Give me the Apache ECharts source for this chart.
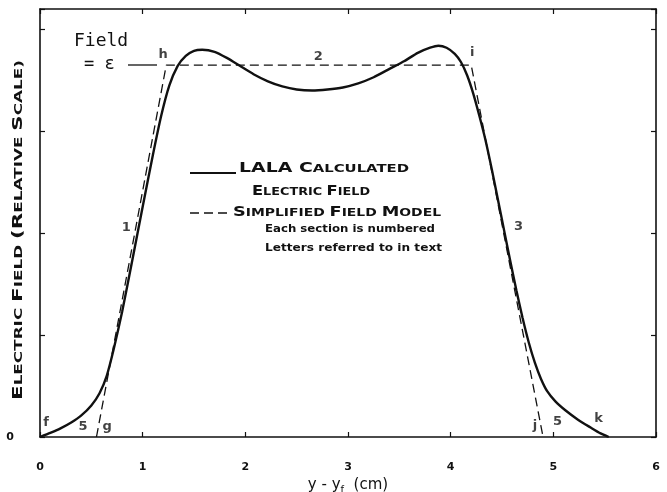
<!DOCTYPE html>
<html>
<head>
<meta charset="utf-8">
<script src="https://cdn.jsdelivr.net/npm/echarts@6/dist/echarts.min.js"></script>
<style>
  html, body { margin: 0; padding: 0; background: #fff; }
  #main { width: 667px; height: 492px; }
</style>
</head>
<body>
<div id="main"></div>
<script>
// LALA calculated electric field (solid curve), x in cm, y relative
const calcX = [0, 0.10, 0.20, 0.30, 0.40, 0.50, 0.58, 0.65, 0.72, 0.80, 0.90, 1.00, 1.10, 1.18, 1.26, 1.34, 1.42, 1.50, 1.58, 1.70, 1.82, 1.95, 2.08, 2.22, 2.36, 2.50, 2.65, 2.80, 2.95, 3.10, 3.25, 3.40, 3.55, 3.68, 3.80, 3.88, 3.96, 4.04, 4.10, 4.16, 4.22, 4.28, 4.34, 4.40, 4.46, 4.52, 4.58, 4.64, 4.70, 4.76, 4.82, 4.88, 4.94, 5.02, 5.12, 5.24, 5.36, 5.46, 5.54];
const calcY = [0, 0.04, 0.085, 0.14, 0.21, 0.31, 0.43, 0.60, 0.87, 1.23, 1.74, 2.26, 2.77, 3.15, 3.45, 3.64, 3.74, 3.79, 3.80, 3.78, 3.72, 3.64, 3.56, 3.49, 3.44, 3.41, 3.40, 3.41, 3.43, 3.47, 3.53, 3.61, 3.69, 3.77, 3.82, 3.84, 3.82, 3.76, 3.68, 3.55, 3.37, 3.15, 2.91, 2.63, 2.33, 2.03, 1.73, 1.44, 1.17, 0.93, 0.73, 0.57, 0.45, 0.35, 0.26, 0.17, 0.095, 0.035, 0];

// simplified field model (dashed): g, h, i, j
const modelX = [0.55, 1.23, 4.20, 4.90];
const modelY = [0, 3.65, 3.65, 0];

// section numbers and letters referred to in text
const noteText = ['f', '5', 'g', 'h', '2', 'i', '1', '3', 'j', '5', 'k'];
const noteX = [0.06, 0.42, 0.655, 1.20, 2.71, 4.21, 0.84, 4.66, 4.82, 5.04, 5.44];
const noteY = [0.14, 0.10, 0.10, 3.75, 3.73, 3.77, 2.05, 2.06, 0.11, 0.15, 0.18];

const xTicks = ['0', '1', '2', '3', '4', '5', '6'];

const ink = '#111';
const font = 'DejaVu Sans';

function zip(xs, ys) {
  return xs.map((x, i) => [x, ys[i]]);
}

// stretch text horizontally so it fills the given width (lettering is wide-spaced)
const ctx = document.createElement('canvas').getContext('2d');
function widthOf(parts) {
  let w = 0;
  parts.forEach(p => {
    ctx.font = 'bold ' + p[1] + 'px "' + font + '"';
    w += ctx.measureText(p[0]).width;
  });
  return w;
}
function capsText(parts, x, y, target, rotation) {
  let rich = parts.map(p => '{' + (p[1] > 12.5 ? 'b' : 's') + '|' + p[0] + '}').join('');
  return {
    type: 'text',
    x: x, y: y,
    rotation: rotation || 0,
    scaleX: target / widthOf(parts),
    style: {
      text: rich,
      x: 0, y: 0,
      align: rotation ? 'center' : 'left',
      verticalAlign: 'middle',
      fill: ink,
      rich: {
        b: { fontFamily: font, fontWeight: 'bold', fontSize: 14, fill: ink, verticalAlign: 'bottom' },
        s: { fontFamily: font, fontWeight: 'bold', fontSize: 11, fill: ink, verticalAlign: 'bottom' }
      }
    }
  };
}
function plainText(str, x, y, target) {
  return {
    type: 'text',
    x: x, y: y,
    scaleX: target / widthOf([[str, 10]]),
    style: {
      text: str, x: 0, y: 0,
      align: 'left', verticalAlign: 'middle',
      fontFamily: font, fontWeight: 'bold', fontSize: 10, fill: ink
    }
  };
}

const frameLine = { onZero: false, lineStyle: { color: ink, width: 1.6 } };
const frameTick = { show: true, inside: true, length: 5, lineStyle: { color: ink, width: 1.2 } };

let chart = echarts.init(document.getElementById('main'));

chart.setOption({
  animation: false,
  backgroundColor: '#fff',
  grid: { left: 40, right: 11, top: 9, bottom: 55, outerBoundsMode: 'none', containLabel: false },
  xAxis: [
    {
      type: 'value', min: 0, max: 6, interval: 1,
      axisLine: frameLine,
      axisTick: frameTick,
      splitLine: { show: false },
      axisLabel: {
        margin: 25, color: ink, fontFamily: font, fontWeight: 'bold', fontSize: 11,
        formatter: v => xTicks[v]
      },
      name: '{n|y - y}{sub|f}{n|  (cm)}',
      nameLocation: 'middle',
      nameGap: 37,
      nameTextStyle: {
        rich: {
          n: { fontFamily: font, fontSize: 15, color: ink, verticalAlign: 'bottom' },
          sub: { fontFamily: font, fontSize: 10, color: ink, verticalAlign: 'bottom', padding: [0, 0, -3, 0] }
        }
      }
    },
    {
      type: 'value', min: 0, max: 6, interval: 1, position: 'top',
      axisLine: frameLine,
      axisTick: frameTick,
      axisLabel: { show: false },
      splitLine: { show: false }
    }
  ],
  yAxis: [
    {
      type: 'value', min: 0, max: 4.2, interval: 1,
      axisLine: Object.assign({ show: true }, frameLine),
      axisTick: frameTick,
      splitLine: { show: false },
      axisLabel: {
        margin: 26, color: ink, fontFamily: font, fontWeight: 'bold', fontSize: 11,
        formatter: v => (v === 0 ? '0' : '')
      }
    },
    {
      type: 'value', min: 0, max: 4.2, interval: 1, position: 'right',
      axisLine: Object.assign({ show: true }, frameLine),
      axisTick: frameTick,
      axisLabel: { show: false },
      splitLine: { show: false }
    }
  ],
  series: [
    {
      name: 'LALA Calculated Electric Field',
      type: 'line',
      data: zip(calcX, calcY),
      smooth: 0.2,
      symbol: 'none',
      lineStyle: { color: ink, width: 2.4 }
    },
    {
      name: 'Simplified Field Model',
      type: 'line',
      data: zip(modelX, modelY),
      symbol: 'none',
      lineStyle: { color: ink, width: 1.3, type: [9, 5] }
    },
    {
      name: 'notes',
      type: 'scatter',
      symbolSize: 0,
      data: noteText.map((t, i) => ({ name: t, value: [noteX[i], noteY[i]] })),
      label: {
        show: true, position: 'inside', formatter: '{b}',
        color: ink, fontFamily: font, fontWeight: 'bold', fontSize: 13
      }
    }
  ],
  graphic: [
    { type: 'text', x: 74, y: 41, style: { text: 'Field', fontFamily: 'DejaVu Sans Mono', fontSize: 18, fill: ink, verticalAlign: 'middle' } },
    { type: 'text', x: 84, y: 65, style: { text: '= ε', fontFamily: 'DejaVu Sans Mono', fontSize: 17, fill: ink, verticalAlign: 'middle' } },
    { type: 'line', shape: { x1: 128, y1: 65, x2: 157, y2: 65 }, style: { stroke: ink, lineWidth: 1.3 } },
    // legend
    { type: 'line', shape: { x1: 190, y1: 173, x2: 236, y2: 173 }, style: { stroke: ink, lineWidth: 2 } },
    capsText([['LALA C', 14], ['ALCULATED', 11]], 239, 168, 170),
    capsText([['E', 14], ['LECTRIC ', 11], ['F', 14], ['IELD', 11]], 252, 191, 118),
    { type: 'line', shape: { x1: 190, y1: 213, x2: 230, y2: 213 }, style: { stroke: ink, lineWidth: 1.3, lineDash: [9, 5] } },
    capsText([['S', 14], ['IMPLIFIED ', 11], ['F', 14], ['IELD ', 11], ['M', 14], ['ODEL', 11]], 233, 212, 208),
    plainText('Each section is numbered', 265, 229, 170),
    plainText('Letters referred to in text', 265, 248, 177),
    // y axis title
    capsText([['E', 14], ['LECTRIC ', 11], ['F', 14], ['IELD ', 11], ['(R', 14], ['ELATIVE ', 11], ['S', 14], ['CALE)', 11]], 18, 230, 340, Math.PI / 2)
  ]
});
</script>
</body>
</html>
